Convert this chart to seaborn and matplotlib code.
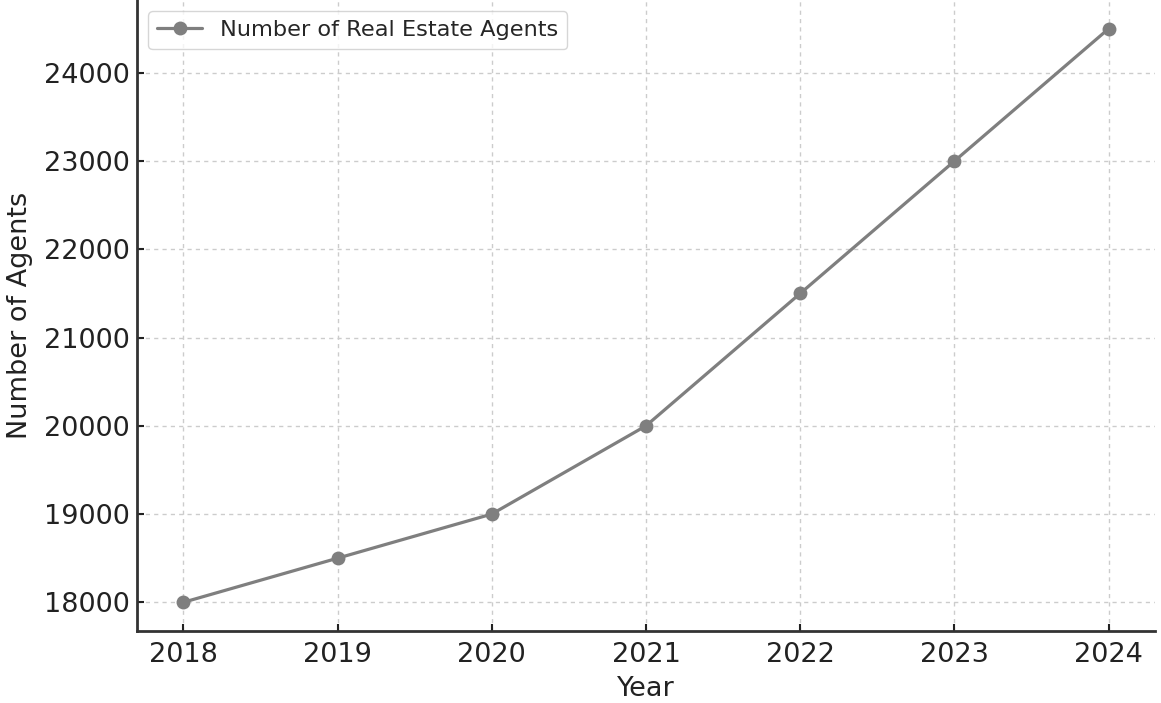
import pandas as pd
import seaborn as sns
import matplotlib.pyplot as plt

years = [2018, 2019, 2020, 2021, 2022, 2023, 2024]
agents = [18000, 18500, 19000, 20000, 21500, 23000, 24500]

df = pd.DataFrame({'Year': years, 'Agents': agents})

sns.set_style('ticks')
plt.rcParams['font.family'] = ['DejaVu Sans']

fig, ax = plt.subplots(figsize=(11.61, 7.03), dpi=100)
fig.subplots_adjust(left=0.118, right=0.9948, top=1.0, bottom=0.1024)

sns.lineplot(data=df, x='Year', y='Agents', marker='o', color='#7f7f7f',
             linewidth=2.3, markersize=10, markeredgewidth=0,
             label='Number of Real Estate Agents', ax=ax)

ax.set_xticks(years)
ax.set_yticks([18000, 19000, 20000, 21000, 22000, 23000, 24000])
ax.tick_params(direction='in', labelsize=19.5, colors='#222222', width=1.5, length=5)
ax.tick_params(axis='x', pad=8)
ax.tick_params(axis='y', pad=5)
ax.set_xlabel('Year', fontsize=19.5, color='#222222', labelpad=6)
ax.set_ylabel('Number of Agents', fontsize=19.5, color='#222222', labelpad=8)
ax.grid(True, linestyle=(0, (3, 3)), color='#cccccc', linewidth=1)
for side in ['top', 'right']:
    ax.spines[side].set_visible(False)
for side in ['left', 'bottom']:
    ax.spines[side].set_linewidth(2)
    ax.spines[side].set_color('#333333')

leg = ax.legend(loc='upper left', fontsize=16.2, frameon=True, handlelength=2.0,
                borderaxespad=0.5)
leg.get_frame().set_edgecolor('#cccccc')

plt.savefig('out.png', dpi=100)
